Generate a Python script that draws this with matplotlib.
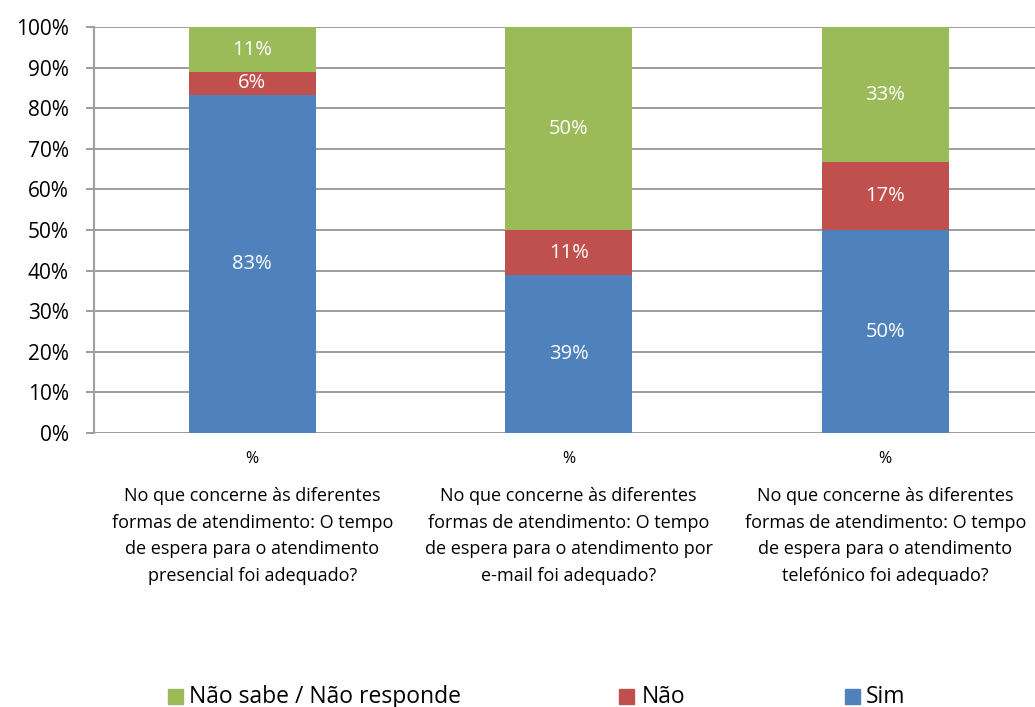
import matplotlib
matplotlib.use("Agg")
import matplotlib.pyplot as plt
from matplotlib.patches import Rectangle

plt.rcParams["font.family"] = ["Open Sans", "DejaVu Sans"]

sub_labels = ["%", "%", "%"]
questions = [
    "No que concerne às diferentes\nformas de atendimento: O tempo\nde espera para o atendimento\npresencial foi adequado?",
    "No que concerne às diferentes\nformas de atendimento: O tempo\nde espera para o atendimento por\ne-mail foi adequado?",
    "No que concerne às diferentes\nformas de atendimento: O tempo\nde espera para o atendimento\ntelefónico foi adequado?",
]
sim = [83.3, 38.9, 50.0]
nao = [5.6, 11.1, 16.7]
nsnr = [11.1, 50.0, 33.3]
sim_lbl = ["83%", "39%", "50%"]
nao_lbl = ["6%", "11%", "17%"]
nsnr_lbl = ["11%", "50%", "33%"]

C_SIM = "#4f81bd"
C_NAO = "#c0504d"
C_NS = "#9bbb59"

W, H = 1035, 707
fig = plt.figure(figsize=(W / 100, H / 100), dpi=100)
ax = fig.add_axes([94 / W, 1 - 433 / H, 941 / W, 406 / H])

x = list(range(len(sim)))
w = 0.4
b1 = ax.bar(x, sim, w, color=C_SIM, zorder=3)
b2 = ax.bar(x, nao, w, bottom=sim, color=C_NAO, zorder=3)
bottom3 = [a + b for a, b in zip(sim, nao)]
b3 = ax.bar(x, nsnr, w, bottom=bottom3, color=C_NS, zorder=3)

for bars, labels in ((b1, sim_lbl), (b2, nao_lbl), (b3, nsnr_lbl)):
    for rect, lab in zip(bars, labels):
        ax.text(rect.get_x() + rect.get_width() / 2, rect.get_y() + rect.get_height() / 2,
                lab, ha="center", va="center", color="white", fontsize=14.5, zorder=4)

ax.set_xlim(-0.5, -0.5 + 941 / 316.5)
ax.set_ylim(0, 100)
ax.set_yticks(range(0, 101, 10))
ax.set_yticklabels([f"{v}%" for v in range(0, 101, 10)], fontsize=15)
ax.yaxis.grid(True, color="#8c8c8c", linewidth=1.2, zorder=0)
ax.tick_params(axis="y", length=6, color="#8c8c8c", width=1.2, pad=12)
ax.set_xticks([])
for s in ("top", "right", "bottom"):
    ax.spines[s].set_visible(False)
ax.spines["left"].set_color("#a0a0a0")
ax.spines["left"].set_linewidth(1.5)

for i in x:
    ax.text(i, -6.5, sub_labels[i], ha="center", va="center", fontsize=11.5,
            clip_on=False)
    ax.text(i, -13.3, questions[i], ha="center", va="top", fontsize=13,
            linespacing=1.62, clip_on=False)

# legend drawn by hand to match the spread-out layout
names = ["Não sabe / Não responde", "Não", "Sim"]
colors = [C_NS, C_NAO, C_SIM]
sq_x = [168, 619, 845]
txt_x = [189, 642, 866]
for n, c, sx, tx in zip(names, colors, sq_x, txt_x):
    fig.patches.append(Rectangle((sx / W, 1 - 704 / H), 15 / W, 15 / H, color=c,
                                 transform=fig.transFigure, figure=fig))
    fig.text(tx / W, 1 - 697 / H, n, fontsize=16.5, ha="left", va="center")

fig.savefig("out.png", dpi=100)
